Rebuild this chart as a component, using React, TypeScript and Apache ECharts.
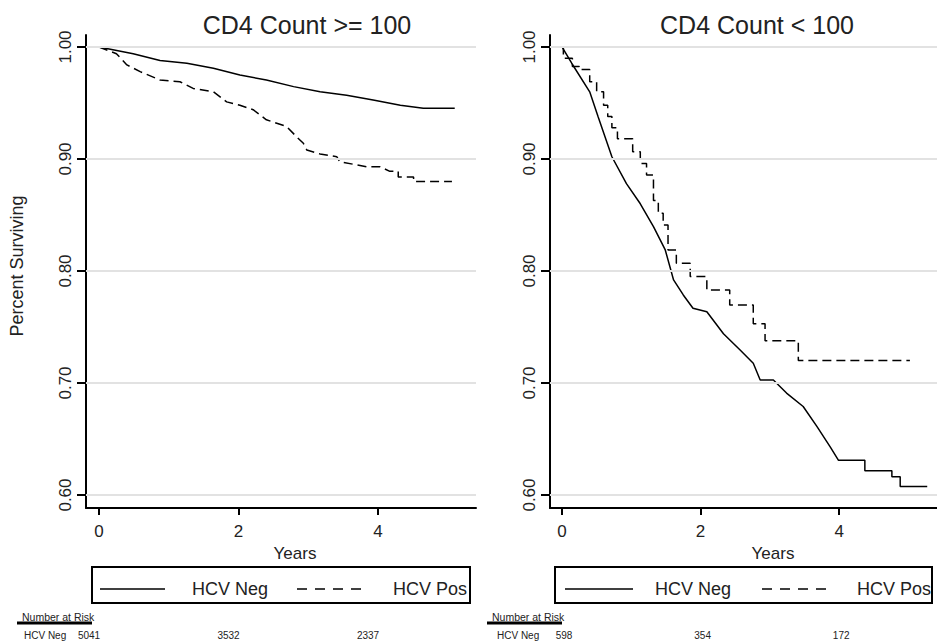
import React, { useEffect, useRef } from "react";
import * as echarts from "echarts";

// ---- Data ----
const panelTitles = ["CD4 Count >= 100", "CD4 Count < 100"];
const seriesNames = ["HCV Neg", "HCV Pos"];
const xTicks = [0, 2, 4];
const yTicks = [0.6, 0.7, 0.8, 0.9, 1.0];

// Left panel (CD4 >= 100)
const negL_t = [0, 0.49, 0.875, 1.26, 1.64, 2.02, 2.4, 2.79, 3.17, 3.55, 3.93, 4.32, 4.65, 5.1];
const negL_s = [1.0, 0.994, 0.988, 0.9855, 0.981, 0.975, 0.9705, 0.9646, 0.96, 0.957, 0.9527, 0.948, 0.9453, 0.9453];
const posL_t = [0, 0.25, 0.4, 0.59, 0.875, 1.16, 1.35, 1.64, 1.83, 2.02, 2.21, 2.4, 2.69, 2.83, 2.93, 2.98, 3.17, 3.41, 3.45, 3.84, 4.03, 4.17, 4.29, 4.29, 4.51, 4.51, 5.06];
const posL_s = [1.0, 0.994, 0.984, 0.978, 0.9705, 0.969, 0.963, 0.96, 0.951, 0.948, 0.944, 0.935, 0.929, 0.92, 0.914, 0.908, 0.9045, 0.902, 0.8976, 0.893, 0.893, 0.889, 0.889, 0.884, 0.884, 0.8798, 0.8798];

// Right panel (CD4 < 100)
const negR_t = [0, 0.14, 0.4, 0.52, 0.72, 0.93, 1.13, 1.32, 1.49, 1.61, 1.75, 1.89, 2.09, 2.33, 2.57, 2.76, 2.86, 3.05, 3.24, 3.48, 3.68, 3.87, 3.99, 4.37, 4.37, 4.76, 4.76, 4.88, 4.88, 5.27];
const negR_s = [1.0, 0.9855, 0.96, 0.938, 0.902, 0.878, 0.86, 0.8396, 0.8188, 0.792, 0.7786, 0.7667, 0.7636, 0.744, 0.7295, 0.7176, 0.7027, 0.7027, 0.691, 0.679, 0.661, 0.643, 0.631, 0.631, 0.6217, 0.6217, 0.6164, 0.6164, 0.6075, 0.6075];
const posR_t = [0, 0.02, 0.15, 0.25, 0.4, 0.5, 0.6, 0.66, 0.72, 0.8, 1.02, 1.13, 1.22, 1.32, 1.39, 1.46, 1.53, 1.65, 1.85, 2.09, 2.42, 2.76, 2.93, 3.41, 5.02];
const posR_s = [1.0, 0.99, 0.9825, 0.98, 0.969, 0.96, 0.948, 0.938, 0.928, 0.918, 0.9065, 0.896, 0.8857, 0.863, 0.8515, 0.841, 0.8188, 0.807, 0.795, 0.783, 0.7696, 0.753, 0.7378, 0.72, 0.72];

// Number at risk
const riskTimes = [0, 2, 4];
const riskLeft = [5041, 3532, 2337];
const riskRight = [598, 354, 172];

const FONT = "'Liberation Sans', Arial, Helvetica, sans-serif";
const TXT = "#222";

const zip = (t: number[], s: number[]) => t.map((v, i) => [v, s[i]]);

export default function App() {
  const ref = useRef<HTMLDivElement>(null);

  useEffect(() => {
    if (!ref.current) return;
    document.body.style.margin = "0";
    const chart = echarts.init(ref.current, null, { renderer: "svg" });

    const grids = [
      { left: 86, top: 35, width: 390, height: 473, outerBoundsMode: "none" },
      { left: 550, top: 35, width: 387, height: 473, outerBoundsMode: "none" },
    ];
    const xRanges = [
      [-0.1864, 5.405],
      [-0.173, 5.411],
    ];
    const namePads = [28, 59];

    const xAxis = [0, 1].map((i) => ({
      type: "value",
      gridIndex: i,
      min: xRanges[i][0],
      max: xRanges[i][1],
      name: "Years",
      nameLocation: "middle",
      nameGap: 31,
      nameTextStyle: { fontSize: 17, color: TXT, fontFamily: FONT, padding: [0, 0, 0, namePads[i]] },
      axisLine: { show: true, onZero: false, lineStyle: { color: "#000", width: 2 } },
      axisTick: { show: true, length: 7, customValues: xTicks, lineStyle: { color: "#000", width: 2 } },
      axisLabel: { customValues: xTicks, fontSize: 17, color: TXT, fontFamily: FONT, margin: 15 },
      splitLine: { show: false },
    }));

    const yAxis = [0, 1].map((i) => ({
      type: "value",
      gridIndex: i,
      min: 0.5884,
      max: 1.0107,
      axisLine: { show: true, onZero: false, lineStyle: { color: "#000", width: 2 } },
      axisTick: { show: true, length: 9, customValues: yTicks, lineStyle: { color: "#000", width: 2 } },
      axisLabel: {
        customValues: yTicks,
        rotate: 90,
        fontSize: 17,
        color: TXT,
        fontFamily: FONT,
        margin: 12,
        formatter: (v: number) => v.toFixed(2),
      },
      splitLine: { show: false },
    }));

    const gridLineSeries = [0, 1].map((i) => ({
      type: "line",
      xAxisIndex: i,
      yAxisIndex: i,
      data: [],
      silent: true,
      z: 1,
      markLine: {
        silent: true,
        symbol: ["none", "none"],
        label: { show: false },
        lineStyle: { color: "#e2e2e2", width: 2, type: "solid" },
        data: yTicks.map((v) => ({ yAxis: v })),
      },
    }));

    const solid = { color: "#000", width: 1.5, type: "solid" };
    const dashed = { color: "#000", width: 1.5, type: [9, 5] };

    const series = [
      ...gridLineSeries,
      { type: "line", name: seriesNames[0], xAxisIndex: 0, yAxisIndex: 0, data: zip(negL_t, negL_s), showSymbol: false, lineStyle: solid, z: 3 },
      { type: "line", name: seriesNames[1], xAxisIndex: 0, yAxisIndex: 0, data: zip(posL_t, posL_s), showSymbol: false, lineStyle: dashed, z: 3 },
      { type: "line", name: seriesNames[0], xAxisIndex: 1, yAxisIndex: 1, data: zip(negR_t, negR_s), showSymbol: false, lineStyle: solid, z: 3 },
      { type: "line", name: seriesNames[1], xAxisIndex: 1, yAxisIndex: 1, data: zip(posR_t, posR_s), step: "end", showSymbol: false, lineStyle: dashed, z: 3 },
    ];

    chart.setOption({
      animation: false,
      backgroundColor: "#fff",
      grid: grids,
      xAxis,
      yAxis,
      series,
    });

    // Graphic annotations (titles, legends, number-at-risk table)
    const txt = (text: string, x: number, y: number, fontSize: number, align = "left", rotation = 0) => ({
      type: "text",
      x,
      y,
      rotation,
      silent: true,
      style: {
        text,
        fontSize,
        fontFamily: FONT,
        fill: TXT,
        textAlign: align,
        textVerticalAlign: "middle",
      },
    });

    const legendBoxes = [
      { x: 92, w: 378, l1: [100, 165], t1: 192, l2: [297, 368], t2: 393 },
      { x: 555, w: 377, l1: [565, 633], t1: 655, l2: [762, 832], t2: 857 },
    ];
    const legY = 589;
    const graphics: any[] = [];
    graphics.push(txt(panelTitles[0], 307, 25, 25, "center"));
    graphics.push(txt(panelTitles[1], 757, 25, 25, "center"));
    graphics.push(txt("Percent Surviving", 17, 266, 18, "center", Math.PI / 2));

    legendBoxes.forEach((b) => {
      graphics.push({
        type: "rect",
        silent: true,
        shape: { x: b.x, y: 567, width: b.w, height: 36 },
        style: { fill: "none", stroke: "#000", lineWidth: 2 },
      });
      graphics.push({
        type: "line",
        silent: true,
        shape: { x1: b.l1[0], y1: legY, x2: b.l1[1], y2: legY },
        style: { stroke: "#000", lineWidth: 1.5 },
      });
      graphics.push({
        type: "line",
        silent: true,
        shape: { x1: b.l2[0], y1: legY, x2: b.l2[1], y2: legY },
        style: { stroke: "#000", lineWidth: 1.5, lineDash: [10, 8] },
      });
      graphics.push(txt(seriesNames[0], b.t1, legY, 18));
      graphics.push(txt(seriesNames[1], b.t2, legY, 18));
    });

    const riskStarts = [22, 492];
    const lineStarts = [17, 487];
    const rowStarts = [24, 497];
    const riskOffsets = [-10, 2];
    [riskLeft, riskRight].forEach((vals, i) => {
      graphics.push(txt("Number at Risk", riskStarts[i], 617, 10.5));
      graphics.push({
        type: "line",
        silent: true,
        shape: { x1: lineStarts[i], y1: 623, x2: lineStarts[i] + 75, y2: 623 },
        style: { stroke: "#000", lineWidth: 3 },
      });
      graphics.push(txt(seriesNames[0], rowStarts[i], 635.5, 10));
      vals.forEach((v, k) => {
        const px = chart.convertToPixel({ xAxisIndex: i }, riskTimes[k]) as number;
        graphics.push(txt(String(v), px + riskOffsets[i], 635.5, 10, "center"));
      });
    });

    chart.setOption({ graphic: graphics });

    return () => chart.dispose();
  }, []);

  return (
    <div
      ref={ref}
      style={{ position: "fixed", left: 0, top: 0, width: 937, height: 642, background: "#fff" }}
    />
  );
}
